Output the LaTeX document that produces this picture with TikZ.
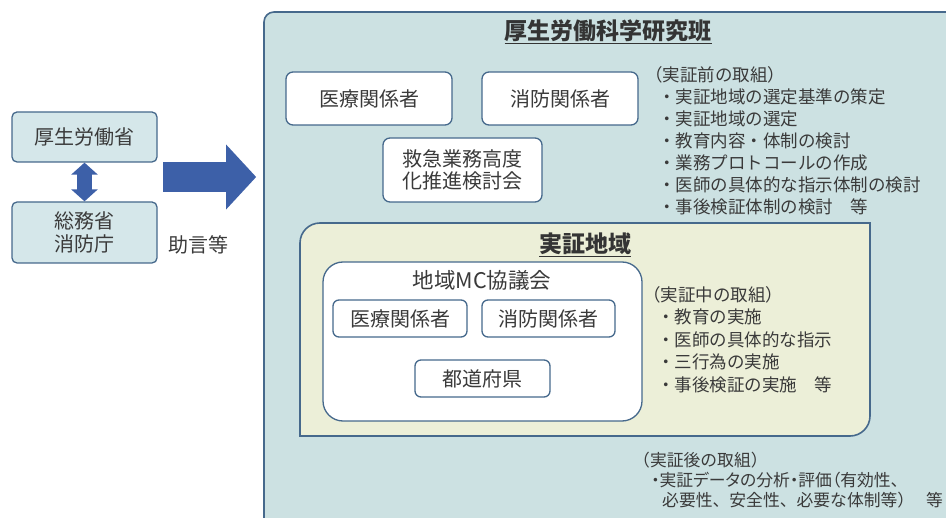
\documentclass[tikz,border=0pt]{standalone}
\usepackage{fontspec}
\setmainfont{Noto Sans CJK JP}
\usetikzlibrary{arrows.meta}

\definecolor{frameline}{HTML}{46698C}
\definecolor{researchfill}{HTML}{CCE1E2}
\definecolor{fieldfill}{HTML}{ECEFD8}
\definecolor{leftfill}{HTML}{D5E7EA}
\definecolor{arrowblue}{HTML}{3D60A8}
\definecolor{ink}{HTML}{3A3A3A}

\begin{document}
\begin{tikzpicture}[x=1pt, y=-1pt,
	orgbox/.style={rectangle, rounded corners=5pt, draw=frameline, line width=1.3pt, fill=leftfill, text=ink, align=center, font=\fontsize{20}{23}\selectfont},
	memberbox/.style={rectangle, rounded corners=7pt, draw=frameline, line width=1.3pt, fill=white, text=ink, align=center, font=\fontsize{20}{22}\selectfont},
	boxtext/.style={text=ink, inner sep=0pt, font=\fontsize{20}{22}\selectfont},
	headtext/.style={text=ink!90!black, inner sep=0pt, font=\fontsize{23}{26}\selectfont\bfseries},
	notetext/.style={text=ink, align=left, anchor=north west, inner sep=0pt, font=\fontsize{17.5}{22}\selectfont},
	twinarrow/.style={draw=arrowblue, line width=15pt, {Triangle[length=12pt,width=26pt]}-{Triangle[length=12pt,width=26pt]}},
	bigarrow/.style={draw=arrowblue, line width=30pt, -{Triangle[length=30pt,width=63pt]}}]
	\useasboundingbox (0,0) rectangle (946,518);
	\clip (0,0) rectangle (946,518);

	% Ministries
	\node[orgbox, minimum width=145pt, minimum height=50pt] (mhlw) at (84.5,137) {厚生労働省};
	\node[orgbox, minimum width=145pt, minimum height=61pt] (fdma) at (84.5,232.5) {総務省\\消防庁};
	\draw[twinarrow] (mhlw.south) -- (fdma.north);
	\node[boxtext] (advice) at (198,245) {助言等};

	% Research group
	\node[rectangle, rounded corners=10pt, draw=frameline, line width=1.6pt, fill=researchfill, minimum width=696pt, minimum height=518pt] (research) at (612,271) {};
	\node[headtext] (researchtitle) at (608,32) {\underline{厚生労働科学研究班}};
	\node[memberbox, minimum width=166pt, minimum height=53pt] (medical) at (369,98.5) {医療関係者};
	\node[memberbox, minimum width=156pt, minimum height=53pt] (fire) at (560,98.5) {消防関係者};
	\node[memberbox, minimum width=159pt, minimum height=64pt] (council) at (462.5,170) {救急業務高度\\化推進検討会};

	% Advice arrow
	\coordinate (arrowtail) at (163,177);
	\draw[bigarrow, shorten >=7pt] (arrowtail) -- (arrowtail -| research.west);

	% Tasks before
	\node[notetext] (before) at (645,66) {（実証前の取組）\\
		\hspace*{13pt}・実証地域の選定基準の策定\\
		\hspace*{13pt}・実証地域の選定\\
		\hspace*{13pt}・教育内容・体制の検討\\
		\hspace*{13pt}・業務プロトコールの作成\\
		\hspace*{13pt}・医師の具体的な指示体制の検討\\
		\hspace*{13pt}・事後検証体制の検討　等};

	% Pilot area
	\draw[draw=frameline, line width=1.6pt, fill=fieldfill] (300,436) -- (300,243) arc(180:90:20pt) -- (870,223) -- (870,416) arc(0:-90:20pt) -- cycle;
	\node[headtext] (fieldtitle) at (585,245) {\underline{実証地域}};
	\node[memberbox, rounded corners=20pt, minimum width=319pt, minimum height=159pt] (mc) at (482.5,341.5) {};
	\node[boxtext, font=\fontsize{21.5}{24}\selectfont] (mctitle) at (482,280) {地域MC協議会};
	\node[memberbox, rounded corners=6pt, minimum width=134pt, minimum height=37pt] (medical2) at (400,318.5) {医療関係者};
	\node[memberbox, rounded corners=6pt, minimum width=133pt, minimum height=37pt] (fire2) at (548.5,318.5) {消防関係者};
	\node[memberbox, rounded corners=6pt, minimum width=135pt, minimum height=37pt] (pref) at (482.5,378.5) {都道府県};

	% Tasks during
	\node[notetext, font=\fontsize{17.5}{22.5}\selectfont] (during) at (643,286) {（実証中の取組）\\
		\hspace*{14pt}・教育の実施\\
		\hspace*{14pt}・医師の具体的な指示\\
		\hspace*{14pt}・三行為の実施\\
		\hspace*{14pt}・事後検証の実施　等};

	% Tasks after
	\node[notetext, font=\fontsize{16.8}{20}\selectfont] (after) at (633,451.5) {（実証後の取組）\\
		\hspace*{18pt}{\addfontfeatures{RawFeature=+palt}・実証データの分析・評価（有効性、}\\
		\hspace*{29pt}必要性、安全性、必要な体制等）\hspace{12pt}等};
\end{tikzpicture}
\end{document}
